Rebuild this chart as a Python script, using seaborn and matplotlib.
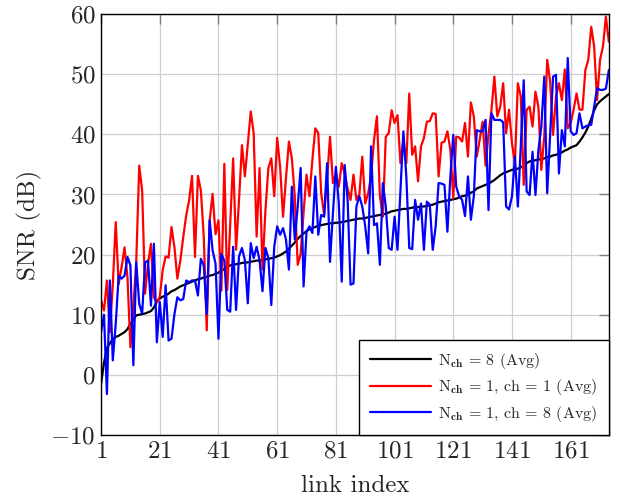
import numpy as np
import pandas as pd
import matplotlib
matplotlib.use("Agg")
import matplotlib.pyplot as plt
import seaborn as sns

# ---------------- data ----------------
snr_nch8 = [
    -1.5, 2.0, 4.5, 5.2, 6.0, 6.3, 6.5, 6.8, 7.1, 7.6,
    8.5, 9.2, 9.9, 10.0, 10.1, 10.2, 10.4, 10.6, 11.2, 12.2,
    12.7, 13.0, 13.2, 13.5, 13.9, 14.1, 14.4, 14.7, 14.9, 15.1,
    15.3, 15.5, 15.7, 15.9, 16.0, 16.2, 16.3, 16.5, 16.6, 16.8,
    17.0, 17.3, 17.6, 18.0, 18.2, 18.3, 18.4, 18.5, 18.6, 18.7,
    18.7, 18.8, 18.9, 19.0, 19.0, 19.1, 19.2, 19.3, 19.4, 19.5,
    19.7, 19.9, 20.2, 20.5, 21.0, 21.5, 22.0, 22.6, 23.1, 23.5,
    23.9, 24.2, 24.4, 24.6, 24.8, 24.9, 25.0, 25.1, 25.2, 25.2,
    25.3, 25.3, 25.4, 25.5, 25.6, 25.7, 25.8, 25.9, 26.0, 26.0,
    26.1, 26.2, 26.3, 26.4, 26.5, 26.6, 26.7, 26.8, 27.0, 27.2,
    27.3, 27.4, 27.5, 27.6, 27.6, 27.7, 27.8, 27.9, 27.9, 28.0,
    28.0, 28.1, 28.2, 28.3, 28.5, 28.7, 28.8, 28.9, 29.0, 29.1,
    29.2, 29.3, 29.5, 29.7, 29.8, 30.0, 30.3, 30.5, 31.0, 31.2,
    31.4, 31.6, 31.8, 32.1, 32.4, 32.8, 33.2, 33.5, 33.7, 33.9,
    34.1, 34.2, 34.3, 34.5, 34.8, 35.2, 35.5, 35.6, 35.7, 35.8,
    35.9, 36.0, 36.2, 36.3, 36.5, 36.6, 36.8, 37.0, 37.3, 37.5,
    37.8, 38.0, 38.2, 38.8, 39.5, 40.3, 41.3, 42.6, 44.0, 45.0,
    45.5, 45.9, 46.3, 46.7,
]

snr_ch1 = [
    12.4, 10.7, 15.7, 7.1, 15.0, 25.4, 15.1, 17.9, 21.2, 16.2,
    4.6, 11.3, 19.0, 34.8, 30.7, 13.5, 18.5, 21.8, 12.9, 12.0,
    13.0, 17.4, 19.7, 19.5, 24.6, 21.2, 16.0, 19.0, 22.9, 26.5,
    29.0, 33.1, 19.6, 33.1, 30.7, 22.9, 7.4, 25.7, 30.1, 23.4,
    25.7, 14.0, 35.1, 14.1, 25.0, 36.0, 20.8, 29.0, 38.2, 33.0,
    38.5, 43.8, 40.2, 23.0, 34.4, 17.5, 27.4, 34.4, 36.0, 29.7,
    39.4, 34.6, 26.3, 32.7, 38.8, 36.0, 29.7, 18.3, 20.1, 27.0,
    33.3, 29.7, 35.8, 41.0, 40.2, 30.2, 26.6, 32.4, 39.6, 31.9,
    33.5, 31.3, 35.2, 33.5, 31.0, 29.1, 33.3, 29.1, 30.0, 36.3,
    28.5, 30.2, 33.0, 39.1, 43.0, 29.7, 26.3, 39.6, 40.2, 44.0,
    41.9, 43.2, 35.2, 39.1, 35.2, 46.8, 36.6, 38.0, 32.2, 38.0,
    39.4, 42.1, 42.2, 43.5, 43.4, 33.0, 38.6, 38.8, 40.5, 37.4,
    29.4, 39.6, 39.5, 38.8, 41.9, 36.3, 45.3, 43.0, 36.3, 39.1,
    42.1, 34.8, 40.0, 44.0, 49.6, 43.0, 44.6, 48.5, 40.2, 44.1,
    38.5, 35.2, 48.5, 46.3, 31.6, 44.1, 44.6, 41.3, 47.1, 44.6,
    34.1, 39.6, 52.4, 48.8, 39.9, 46.3, 48.5, 45.7, 50.8, 41.0,
    41.9, 44.1, 46.8, 44.1, 44.1, 50.7, 52.4, 57.9, 54.6, 45.7,
    52.4, 54.6, 59.6, 55.4,
]

snr_ch8 = [
    7.1, 10.0, -3.2, 15.7, 2.4, 8.5, 16.5, 16.0, 16.5, 19.6,
    18.2, 1.6, 18.7, 11.8, 10.2, 18.7, 19.0, 11.5, 21.8, 5.4,
    12.1, 6.3, 14.9, 5.7, 6.0, 10.1, 12.9, 12.4, 12.6, 15.7,
    15.4, 15.7, 15.7, 13.2, 19.3, 18.2, 10.1, 25.7, 20.7, 18.5,
    6.0, 20.1, 19.0, 10.8, 10.5, 21.3, 10.8, 19.7, 21.1, 19.1,
    11.9, 21.9, 19.4, 21.3, 19.1, 13.9, 21.1, 19.4, 11.6, 21.3,
    24.7, 23.3, 24.4, 22.5, 17.5, 31.3, 22.5, 28.0, 34.4, 14.7,
    23.8, 24.7, 23.6, 33.0, 23.3, 26.6, 26.3, 35.2, 18.8, 26.9,
    34.6, 28.5, 15.5, 34.9, 29.1, 15.0, 15.2, 28.0, 29.7, 28.0,
    24.7, 20.2, 38.0, 24.9, 25.2, 18.3, 31.9, 28.0, 21.1, 20.8,
    26.3, 20.8, 30.8, 40.5, 33.0, 21.1, 20.9, 29.1, 25.8, 28.5,
    20.8, 28.8, 28.3, 20.8, 24.7, 31.9, 31.8, 31.6, 23.8, 33.0,
    39.9, 31.3, 29.7, 29.1, 26.4, 33.0, 25.8, 29.7, 40.7, 40.5,
    40.5, 42.4, 27.4, 43.5, 42.4, 42.4, 42.4, 42.0, 28.0, 27.5,
    29.7, 36.3, 28.0, 38.0, 49.0, 30.5, 29.9, 37.1, 29.9, 37.4,
    41.3, 49.6, 30.2, 40.0, 49.6, 49.9, 33.5, 40.7, 38.0, 52.7,
    40.5, 39.9, 40.2, 43.5, 41.0, 41.3, 41.5, 41.6, 44.6, 47.7,
    47.4, 47.4, 47.6, 50.7,
]

link_index = list(range(1, len(snr_nch8) + 1))
series_labels = [
    r"N$_{\mathbf{ch}}$ = 8 (Avg)",
    r"N$_{\mathbf{ch}}$ = 1, ch = 1 (Avg)",
    r"N$_{\mathbf{ch}}$ = 1, ch = 8 (Avg)",
]
series_colors = ["black", "red", "blue"]
x_ticks = [1, 21, 41, 61, 81, 101, 121, 141, 161]
y_ticks = [-10, 0, 10, 20, 30, 40, 50, 60]

# ---------------- style ----------------
sns.set_theme(style="white")
plt.rcParams["font.family"] = ["cmr10", "DejaVu Serif"]
plt.rcParams["mathtext.fontset"] = "cm"
plt.rcParams["axes.formatter.use_mathtext"] = True
plt.rcParams["axes.unicode_minus"] = True

df = pd.DataFrame({
    "link": link_index * 3,
    "snr": snr_nch8 + snr_ch1 + snr_ch8,
    "series": [series_labels[0]] * len(link_index)
              + [series_labels[1]] * len(link_index)
              + [series_labels[2]] * len(link_index),
})

fig = plt.figure(figsize=(6.2, 5.04), dpi=100)
ax = fig.add_axes([0.163, 0.137, 0.819, 0.835])

sns.lineplot(data=df, x="link", y="snr", hue="series",
             hue_order=series_labels,
             palette=dict(zip(series_labels, series_colors)),
             sort=False, linewidth=1.6, ax=ax, legend=True)

ax.set_xlim(1, len(link_index))
ax.set_ylim(-10, 60)
ax.set_xticks(x_ticks)
ax.set_yticks(y_ticks)
ax.grid(True, color="#cfcfcf", linewidth=0.9)
ax.set_axisbelow(True)
ax.tick_params(axis="both", which="both", direction="in", length=7,
               width=1, color="#7f7f7f", top=True, right=True,
               labelsize=18, pad=4)
for s in ax.spines.values():
    s.set_color("black")
    s.set_linewidth(1.0)

ax.set_xlabel("link index", fontsize=18, labelpad=9)
ax.set_ylabel("SNR (dB)", fontsize=18, labelpad=6)

leg = ax.legend(loc="lower right", borderaxespad=0.0, fontsize=11.5,
                frameon=True, fancybox=False, framealpha=1,
                edgecolor="black", handlelength=3.8, handletextpad=0.5,
                labelspacing=0.4, borderpad=0.7)
leg.get_frame().set_linewidth(1.0)
for h in leg.get_lines():
    h.set_linewidth(1.6)

fig.savefig("out.png", dpi=100)
